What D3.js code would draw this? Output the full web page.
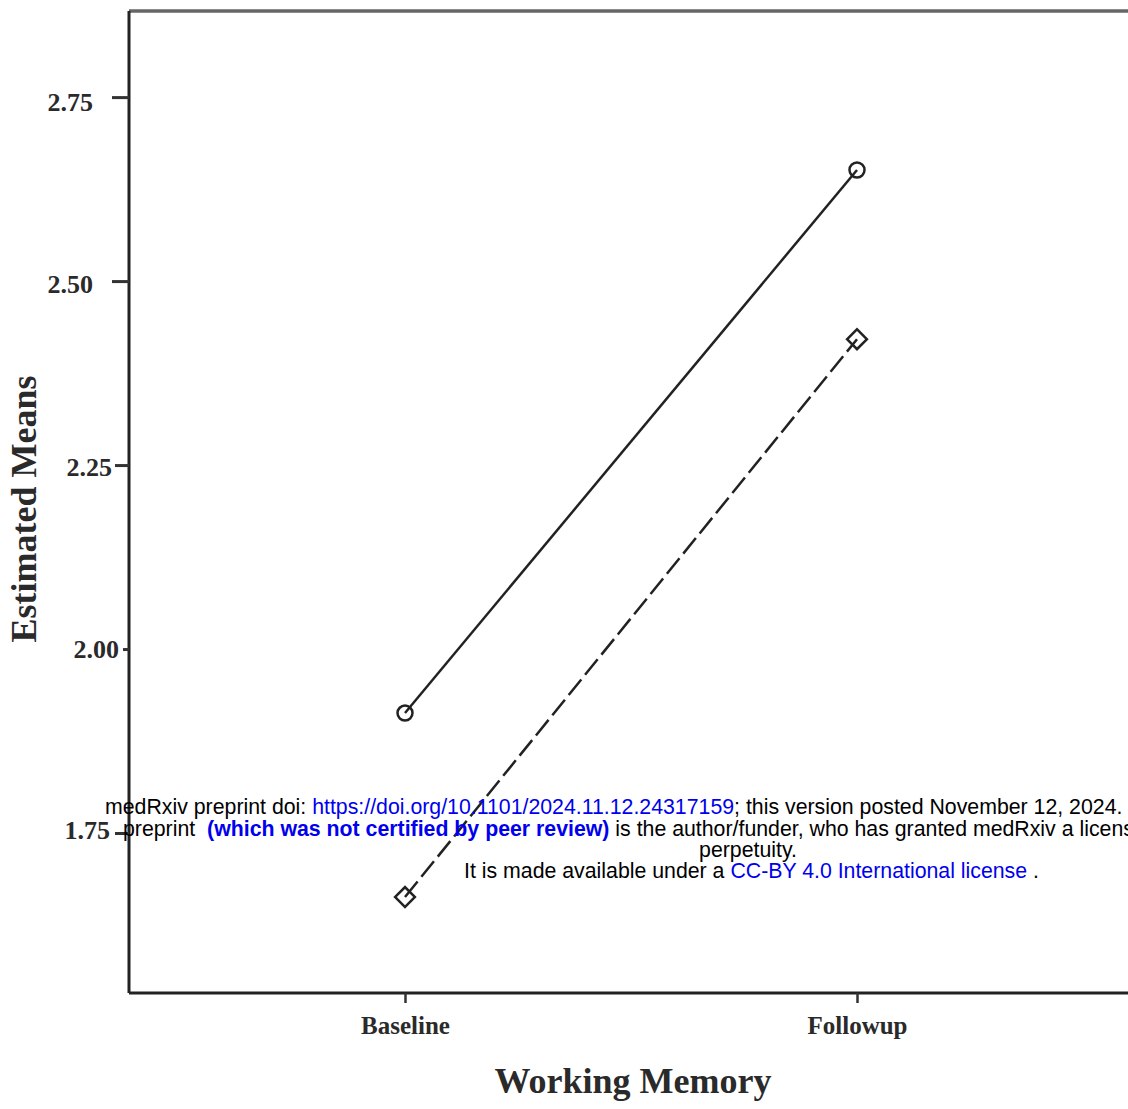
<!DOCTYPE html>
<html><head><meta charset="utf-8">
<script src="https://cdn.jsdelivr.net/npm/d3@7"></script>
<style>html,body{margin:0;padding:0;background:#fff;overflow:hidden} text{white-space:pre}</style>
</head><body>
<svg id="chart" width="1128" height="1109"></svg>
<script>
const categories = ["Baseline", "Followup"];
const seriesCircle = [1.913, 2.651];
const seriesDiamond = [1.663, 2.421];
const yTicks = [1.75, 2.00, 2.25, 2.50, 2.75];
const yTickLabels = ["1.75", "2.00", "2.25", "2.50", "2.75"];

// per-tick styling (matches the slightly uneven original scan)
const tickLen = [14, 6, 14, 17, 17];
const labelRight = [110, 119, 112, 93, 93];
const labelDy = [5, 8, 10, 11, 13];

const svg = d3.select("#chart");
const mLeft = 129, mTop = 11, mBottom = 993, mRight = 1140;
const y = d3.scaleLinear().domain([1.5326, 2.867]).range([mBottom, mTop]);
const x = d3.scalePoint().domain(categories).range([405, 857]);

const serif = "'Liberation Serif','DejaVu Serif',serif";
const ink = "#2a2a2a";
// frame
svg.append("line").attr("x1", mLeft).attr("x2", mRight).attr("y1", mTop).attr("y2", mTop)
  .attr("stroke", "#666").attr("stroke-width", 3.5);

const yAxis = d3.axisLeft(y).tickValues(yTicks).tickSize(12).tickPadding(10)
  .tickFormat((d, i) => yTickLabels[i]);
const gy = svg.append("g").attr("transform", `translate(${mLeft},0)`).call(yAxis);
gy.select(".domain").attr("d", `M0,${mTop}V${mBottom}`).attr("stroke", "#222").attr("stroke-width", 3);
gy.selectAll(".tick line").attr("stroke", "#333").attr("stroke-width", 3)
  .attr("x2", (d, i) => -tickLen[i]);
gy.selectAll(".tick text").attr("font-family", serif).attr("font-size", 26).attr("font-weight", "bold")
  .attr("fill", ink).attr("dy", (d, i) => labelDy[i]).attr("x", (d, i) => labelRight[i] - mLeft);

const xAxis = d3.axisBottom(x).tickSize(10).tickPadding(12);
const gx = svg.append("g").attr("transform", `translate(0,${mBottom})`).call(xAxis);
gx.select(".domain").attr("d", `M${mLeft},0H${mRight}`).attr("stroke", "#222").attr("stroke-width", 3);
gx.selectAll(".tick line").attr("stroke", "#333").attr("stroke-width", 2.5);
gx.selectAll(".tick text").attr("font-family", serif).attr("font-size", 25).attr("font-weight", "bold")
  .attr("fill", ink).attr("y", 41).attr("dy", 0);

// titles
svg.append("text").attr("transform", "translate(36,509) rotate(-90)").attr("text-anchor", "middle")
  .attr("font-family", serif).attr("font-size", 36).attr("font-weight", "bold").attr("fill", ink)
  .text("Estimated Means");
svg.append("text").attr("x", 633).attr("y", 1093).attr("text-anchor", "middle")
  .attr("font-family", serif).attr("font-size", 36).attr("font-weight", "bold").attr("fill", ink)
  .text("Working Memory");

// lines
const line = d3.line().x((d, i) => x(categories[i])).y(d => y(d));
svg.append("path").datum(seriesCircle).attr("d", line).attr("fill", "none")
  .attr("stroke", "#222").attr("stroke-width", 2.5);
svg.append("path").datum(seriesDiamond).attr("d", line).attr("fill", "none")
  .attr("stroke", "#222").attr("stroke-width", 2.5).attr("stroke-dasharray", "20,6");

// markers
svg.selectAll(".mc").data(seriesCircle).enter().append("circle")
  .attr("cx", (d, i) => x(categories[i])).attr("cy", d => y(d)).attr("r", 7.5)
  .attr("fill", "none").attr("stroke", "#222").attr("stroke-width", 2.5);
svg.selectAll(".md").data(seriesDiamond).enter().append("path")
  .attr("transform", (d, i) => `translate(${x(categories[i])},${y(d)}) rotate(45)`)
  .attr("d", "M-7,-7H7V7H-7Z")
  .attr("fill", "none").attr("stroke", "#222").attr("stroke-width", 2.5);

// watermark
const sans = "'Liberation Sans',Arial,sans-serif";
const wm = svg.append("g").attr("font-family", sans).attr("font-size", 21.3).attr("fill", "#000");
const t1 = wm.append("text").attr("x", 105).attr("y", 814);
t1.append("tspan").text("medRxiv preprint doi: ");
t1.append("tspan").attr("fill", "#0000ee").text("https://doi.org/10.1101/2024.11.12.24317159");
t1.append("tspan").text("; this version posted November 12, 2024.");
const t2 = wm.append("text").attr("x", 123).attr("y", 836);
t2.append("tspan").text("preprint  ");
t2.append("tspan").attr("fill", "#0000ee").attr("font-weight", "bold").text("(which was not certified by peer review)");
t2.append("tspan").text(" is the author/funder, who has granted medRxiv a license");
wm.append("text").attr("x", 748).attr("y", 857).attr("text-anchor", "middle").text("perpetuity.");
const t4 = wm.append("text").attr("x", 464).attr("y", 878);
t4.append("tspan").text("It is made available under a ");
t4.append("tspan").attr("fill", "#0000ee").text("CC-BY 4.0 International license");
t4.append("tspan").text(" .");
</script>
</body></html>
